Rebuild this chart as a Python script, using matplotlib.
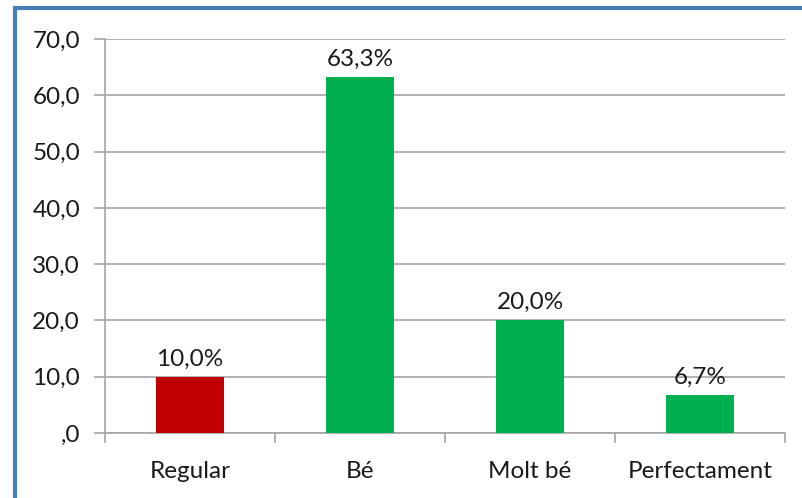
import matplotlib.pyplot as plt
from matplotlib.patches import Rectangle
from matplotlib.ticker import FuncFormatter

categories = ['Regular', 'Bé', 'Molt bé', 'Perfectament']
values = [10.0, 63.3, 20.0, 6.7]
colors = ['#C00000', '#00B050', '#00B050', '#00B050']
yticks = [0, 10, 20, 30, 40, 50, 60, 70]

plt.rcParams['font.family'] = ['Lato', 'DejaVu Sans']

W, H = 802, 498
fig = plt.figure(figsize=(W / 100, H / 100), dpi=100)
ax = fig.add_axes([105 / W, 1 - 433 / H, 680 / W, 394 / H])

# outer chart frame (only left and top visible in the crop)
fig.patches.append(Rectangle((15 / W, -0.1), 1.2, 1 - 8 / H + 0.1,
                             transform=fig.transFigure, fill=False,
                             edgecolor='#4A7EBB', linewidth=3, zorder=10))

x = range(len(categories))
ax.bar(x, values, width=0.4, color=colors, zorder=3)

for i, v in enumerate(values):
    ax.text(i, v + 1.3, f'{v:.1f}%'.replace('.', ','), ha='center', va='bottom',
            fontsize=17.5, color='#1a1a1a')

ax.set_xlim(-0.5, len(categories) - 0.5)
ax.set_ylim(0, 70)
ax.set_yticks(yticks)
ax.yaxis.set_major_formatter(FuncFormatter(
    lambda v, p: ',0' if v == 0 else f'{v:.1f}'.replace('.', ',')))
ax.yaxis.grid(True, color='#A6A6A6', linewidth=1.2, zorder=0)

ax.set_xticks(list(x))
ax.set_xticklabels(categories)
ax.set_xticks([i - 0.5 for i in range(len(categories) + 1)], minor=True)
ax.tick_params(axis='x', which='major', length=0, pad=20, labelsize=17.5, labelcolor='#1a1a1a')
ax.tick_params(axis='x', which='minor', length=7, color='#A6A6A6', width=1.2)
ax.tick_params(axis='y', length=8, color='#A6A6A6', width=1.2, pad=10, labelsize=17.5,
               labelcolor='#1a1a1a')

for s in ['top', 'right']:
    ax.spines[s].set_visible(False)
for s in ['left', 'bottom']:
    ax.spines[s].set_color('#A6A6A6')
    ax.spines[s].set_linewidth(1.2)

fig.savefig('out.png', dpi=100, facecolor='white')
